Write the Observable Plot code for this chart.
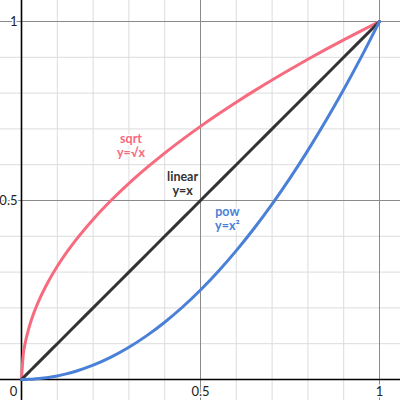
<!DOCTYPE html>
<html><head><meta charset="utf-8">
<script src="https://cdn.jsdelivr.net/npm/d3@7"></script>
<script src="https://cdn.jsdelivr.net/npm/@observablehq/plot@0.6"></script>
<style>body{margin:0;background:#fff}</style>
</head><body><div id="chart"></div>
<script>
const xs = [0,0.005,0.01,0.02,0.03,0.05,0.075,0.1,0.125,0.15,0.2,0.25,0.3,0.35,0.4,0.45,0.5,0.55,0.6,0.65,0.7,0.75,0.8,0.85,0.9,0.95,1];
const sqrtVals = [0,0.0707,0.1,0.1414,0.1732,0.2236,0.2739,0.3162,0.3536,0.3873,0.4472,0.5,0.5477,0.5916,0.6325,0.6708,0.7071,0.7416,0.7746,0.8062,0.8367,0.866,0.8944,0.922,0.9487,0.9747,1];
const linearVals = xs.slice();
const powVals = [0,0.000025,0.0001,0.0004,0.0009,0.0025,0.0056,0.01,0.0156,0.0225,0.04,0.0625,0.09,0.1225,0.16,0.2025,0.25,0.3025,0.36,0.4225,0.49,0.5625,0.64,0.7225,0.81,0.9025,1];
const minorTicks = [0.1,0.2,0.3,0.4,0.6,0.7,0.8,0.9];
const majorTicks = [0.5,1];
const tickLabels = [{v:0.5,t:"0.5"},{v:1,t:"1"}];
const seriesNames = ["sqrt","linear","pow"];
const seriesLabels = ["sqrt\ny=√x","linear\ny=x","pow\ny=x²"];
const labelX = [0.306,0.45,0.575];
const labelY = [0.654,0.547,0.45];
const colors = ["#f76b7f","#333333","#4a80d8"];

const rows = [];
[sqrtVals, linearVals, powVals].forEach((vals,i)=>xs.forEach((x,j)=>rows.push({series:seriesNames[i],x,y:vals[j]})));
const labels = seriesNames.map((s,i)=>({series:s,text:seriesLabels[i],x:labelX[i],y:labelY[i]}));

const chart = Plot.plot({
  width:400,height:400,margin:0,
  style:{fontFamily:"Lato, sans-serif",background:"#fff"},
  x:{domain:[0,1],range:[21,379],axis:null},
  y:{domain:[0,1],range:[379,21],axis:null},
  color:{domain:seriesNames,range:colors},
  marks:[
    Plot.ruleX(minorTicks,{stroke:"#dcdcdc",strokeWidth:1}),
    Plot.ruleY(minorTicks,{stroke:"#dcdcdc",strokeWidth:1}),
    Plot.ruleX(majorTicks,{stroke:"#8a8a8a",strokeWidth:1}),
    Plot.ruleY(majorTicks,{stroke:"#8a8a8a",strokeWidth:1}),
    Plot.ruleX([0],{stroke:"#000",strokeWidth:1.6}),
    Plot.ruleY([0],{stroke:"#000",strokeWidth:1.6}),
    Plot.text(tickLabels,{x:"v",y:0,text:"t",dy:12,fontSize:13,fill:"#222",stroke:"#fff",strokeWidth:3}),
    Plot.text(tickLabels,{x:0,y:"v",text:"t",dx:-4,textAnchor:"end",fontSize:13,fill:"#222",stroke:"#fff",strokeWidth:3}),
    Plot.text([0],{x:0,y:0,text:d=>"0",dx:-8,dy:12,fontSize:13,fill:"#222"}),
    Plot.line(rows,{x:"x",y:"y",z:"series",stroke:"series",strokeWidth:3,curve:"monotone-x"}),
    Plot.text(labels,{x:"x",y:"y",text:"text",fill:"series",fontSize:12.5,fontWeight:"bold",lineHeight:1.1,stroke:"#fff",strokeWidth:3})
  ]
});
document.getElementById("chart").appendChild(chart);
</script></body></html>
